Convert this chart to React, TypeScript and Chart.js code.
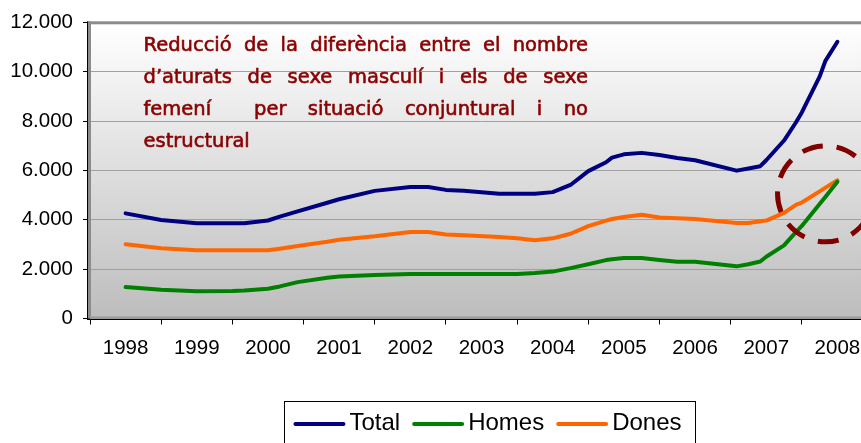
import React, { useEffect, useRef } from 'react';
import { Chart, registerables } from 'chart.js';

Chart.register(...registerables);

// ---------- data ----------
const years = ['1998', '1999', '2000', '2001', '2002', '2003', '2004', '2005', '2006', '2007', '2008'];
// months elapsed since the start of 1998
const months = [0, 6, 12, 18, 20, 24, 26, 29, 34, 36, 42, 48, 51, 54, 57, 63, 66, 69, 72, 75, 78, 81, 82, 84, 87, 90, 93, 96, 103, 105, 107, 108, 111, 113, 114, 117, 118, 120];
const total = [4260, 3990, 3860, 3860, 3860, 3970, 4130, 4340, 4690, 4830, 5170, 5330, 5330, 5210, 5180, 5050, 5050, 5050, 5120, 5410, 5970, 6330, 6520, 6650, 6710, 6620, 6500, 6410, 5990, 6080, 6170, 6410, 7210, 7940, 8350, 9800, 10450, 11210];
const homes = [1273, 1167, 1100, 1113, 1130, 1207, 1300, 1473, 1647, 1700, 1760, 1807, 1807, 1807, 1807, 1807, 1807, 1840, 1900, 2040, 2200, 2367, 2400, 2447, 2447, 2367, 2300, 2300, 2113, 2200, 2310, 2500, 2960, 3500, 3750, 4640, 4930, 5540];
const dones = [3007, 2847, 2767, 2767, 2767, 2767, 2830, 2940, 3110, 3193, 3330, 3500, 3500, 3407, 3370, 3300, 3247, 3167, 3247, 3433, 3740, 3967, 4030, 4113, 4207, 4090, 4060, 4033, 3873, 3873, 3940, 3967, 4280, 4600, 4700, 5150, 5300, 5600];
const seriesNames = ['Total', 'Homes', 'Dones'];
const seriesColors = ['#000080', '#008000', '#FF6600'];
const yTickValues = [0, 2000, 4000, 6000, 8000, 10000, 12000];
const noteLines = [
  'Reducció de la diferència entre el nombre',
  'd’aturats de sexe masculí i els de sexe',
  'femení  per situació conjuntural i no',
  'estructural',
];
// highlighted point of convergence (month, value)
const highlight = { month: 118, value: 5050 };

const SANS = '"Liberation Sans", Arial, sans-serif';

function fmt(v: number): string {
  return String(v).replace(/\B(?=(\d{3})+(?!\d))/g, '.');
}

const decorPlugin = {
  id: 'decor',
  beforeDraw(chart: any) {
    const { ctx, chartArea: a } = chart;
    ctx.save();
    const g = ctx.createLinearGradient(0, a.top, 0, a.bottom);
    g.addColorStop(0, '#ffffff');
    g.addColorStop(1, '#bdbdbd');
    ctx.fillStyle = g;
    ctx.fillRect(a.left, a.top, a.right - a.left, a.bottom - a.top);
    ctx.restore();
  },
  beforeDatasetsDraw(chart: any) {
    const { ctx, chartArea: a } = chart;
    ctx.save();
    // plot-area frame (gray)
    ctx.fillStyle = '#8c8c8c';
    ctx.fillRect(a.left - 2, a.top - 1, a.right - a.left + 4, 3);
    ctx.fillRect(a.left - 2, a.top - 1, 3, a.bottom - a.top + 1);
    ctx.fillStyle = '#9a9a9a';
    ctx.fillRect(a.left, a.bottom - 2, a.right - a.left, 2);
    // axis lines (black)
    ctx.fillStyle = '#000000';
    ctx.fillRect(a.left - 3, a.top - 1, 1, a.bottom - a.top + 2);
    ctx.fillRect(a.left - 3, Math.round(a.bottom), a.right - a.left + 3, 1);
    ctx.restore();
  },
  afterDatasetsDraw(chart: any) {
    const { ctx } = chart;
    const xs = chart.scales.x;
    const ys = chart.scales.y;
    ctx.save();
    // annotation text (justified)
    ctx.fillStyle = '#8B0000';
    ctx.strokeStyle = '#8B0000';
    ctx.lineWidth = 0.6;
    ctx.lineJoin = 'round';
    ctx.font = '19.5px "DejaVu Sans", Verdana, sans-serif';
    ctx.textBaseline = 'alphabetic';
    const left = 143.5;
    const right = 588;
    const baselines = [51, 83, 115, 146.5];
    const put = (t: string, x: number, y: number) => {
      ctx.fillText(t, x, y);
      ctx.strokeText(t, x, y);
    };
    noteLines.forEach((line, li) => {
      const words = line.split(' ');
      const y = baselines[li];
      ctx.textAlign = 'left';
      if (li === noteLines.length - 1 || words.length < 2) {
        put(line, left, y);
        return;
      }
      const widths = words.map((w) => ctx.measureText(w).width);
      const sum = widths.reduce((s, w) => s + w, 0);
      const gap = (right - left - sum) / (words.length - 1);
      let x = left;
      words.forEach((w, i) => {
        if (w) put(w, x, y);
        x += widths[i] + gap;
      });
    });
    // dashed circle
    const cx = xs.getPixelForValue(highlight.month);
    const cy = ys.getPixelForValue(highlight.value);
    ctx.beginPath();
    ctx.setLineDash([21, 14]);
    ctx.lineDashOffset = 8;
    ctx.lineWidth = 5;
    ctx.strokeStyle = '#800000';
    ctx.ellipse(cx, cy, 48, 48, 0, 0, Math.PI * 2);
    ctx.stroke();
    ctx.restore();
  },
  afterDraw(chart: any) {
    const { ctx } = chart;
    ctx.save();
    // legend box
    const bx = 284, by = 401, bw = 412, bh = 70;
    ctx.fillStyle = '#ffffff';
    ctx.fillRect(bx, by, bw, bh);
    ctx.strokeStyle = '#000000';
    ctx.lineWidth = 1;
    ctx.strokeRect(bx + 0.5, by + 0.5, bw - 1, bh - 1);
    ctx.font = '24px ' + SANS;
    ctx.textBaseline = 'alphabetic';
    ctx.textAlign = 'left';
    const sample = 50, sgap = 5, igap = 13;
    const ds = chart.data.datasets;
    const tw = ds.map((d: any) => ctx.measureText(d.label).width);
    const totalW = tw.reduce((s: number, w: number) => s + w + sample + sgap, 0) + igap * (ds.length - 1);
    let x = bx + (bw - totalW) / 2 - 2;
    const ly = 424;
    ds.forEach((d: any, i: number) => {
      ctx.beginPath();
      ctx.strokeStyle = d.borderColor;
      ctx.lineWidth = 4;
      ctx.lineCap = 'round';
      ctx.moveTo(x + 1, ly);
      ctx.lineTo(x + sample - 1, ly);
      ctx.stroke();
      x += sample + sgap;
      ctx.fillStyle = '#000000';
      ctx.fillText(d.label, x, 430);
      x += tw[i] + igap;
    });
    ctx.restore();
  },
};

export default function App() {
  const ref = useRef<HTMLCanvasElement | null>(null);

  useEffect(() => {
    if (!ref.current) return;
    const series = [total, homes, dones];
    const chart = new Chart(ref.current, {
      type: 'line',
      data: {
        datasets: series.map((vals, i) => ({
          label: seriesNames[i],
          data: months.map((m, j) => ({ x: m, y: vals[j] })),
          borderColor: seriesColors[i],
          backgroundColor: seriesColors[i],
          borderWidth: 4,
          pointRadius: 0,
          tension: 0,
          borderCapStyle: 'round',
          borderJoinStyle: 'round',
          fill: false,
        })),
      },
      options: {
        responsive: false,
        animation: false,
        events: [],
        layout: { padding: { left: 0, top: 18, right: 27, bottom: 0 } },
        plugins: {
          legend: { display: false },
          tooltip: { enabled: false },
          title: { display: false },
        },
        scales: {
          x: {
            type: 'linear',
            min: -6,
            max: 126,
            afterBuildTicks: (scale: any) => {
              const t = [];
              for (let v = -6; v <= 126; v += 6) t.push({ value: v });
              scale.ticks = t;
            },
            afterFit: (scale: any) => {
              scale.height = 124.5;
            },
            grid: {
              drawOnChartArea: false,
              drawTicks: true,
              tickLength: 6,
              tickWidth: 1,
              tickColor: (c: any) => (c.tick && c.tick.value % 12 === 0 ? 'rgba(0,0,0,0)' : '#000000'),
            },
            border: { display: false },
            ticks: {
              autoSkip: false,
              maxRotation: 0,
              minRotation: 0,
              padding: 12,
              color: '#000000',
              font: { family: SANS, size: 20.5 },
              callback: (v: any) => (Number(v) % 12 === 0 ? years[Number(v) / 12] : ''),
            },
          },
          y: {
            min: 0,
            max: 12000,
            afterBuildTicks: (scale: any) => {
              scale.ticks = yTickValues.map((v) => ({ value: v }));
            },
            afterFit: (scale: any) => {
              scale.width = 90;
            },
            grid: {
              color: '#a0a0a0',
              lineWidth: 1,
              drawTicks: true,
              tickLength: 7,
              tickColor: '#000000',
            },
            border: { display: false },
            ticks: {
              padding: 10,
              color: '#000000',
              font: { family: SANS, size: 20.5 },
              callback: (v: any) => fmt(Number(v)),
            },
          },
        },
      },
      plugins: [decorPlugin],
    } as any);
    return () => chart.destroy();
  }, []);

  return (
    <div
      style={{
        position: 'fixed',
        left: 0,
        top: 0,
        width: 861,
        height: 443,
        overflow: 'hidden',
        background: '#ffffff',
      }}
    >
      <canvas ref={ref} width={900} height={443} style={{ display: 'block', width: 900, height: 443 }} />
    </div>
  );
}
